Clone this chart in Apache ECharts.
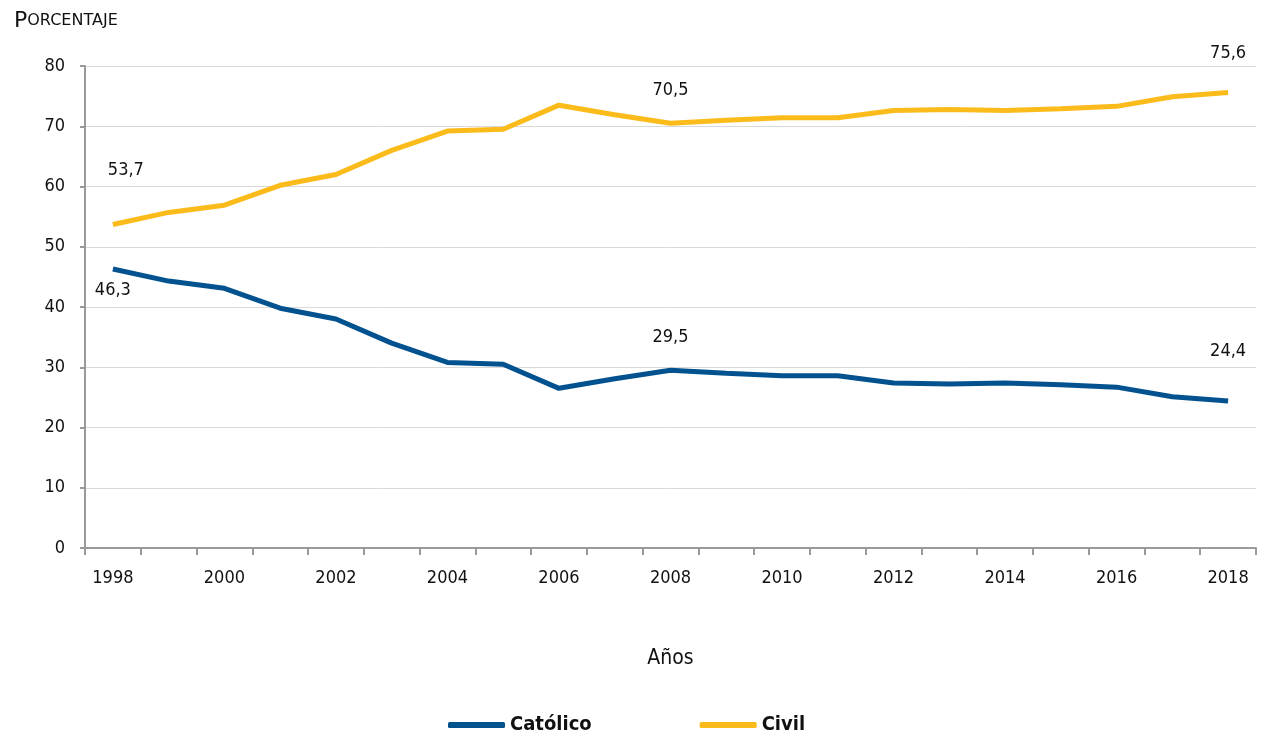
<!DOCTYPE html>
<html>
<head>
<meta charset="utf-8">
<script src="https://cdn.jsdelivr.net/npm/echarts@6/dist/echarts.min.js"></script>
<style>
html,body{margin:0;padding:0;background:#fff;}
#main{width:1265px;height:742px;}
</style>
</head>
<body>
<div id="main"></div>
<script>
var years = ['1998','1999','2000','2001','2002','2003','2004','2005','2006','2007','2008','2009','2010','2011','2012','2013','2014','2015','2016','2017','2018'];
var catolico = [46.3,44.3,43.1,39.8,38.0,34.0,30.8,30.5,26.5,28.1,29.5,29.0,28.6,28.6,27.4,27.2,27.4,27.1,26.7,25.1,24.4];
var civil = [53.7,55.7,56.9,60.2,62.0,66.0,69.2,69.5,73.5,71.9,70.5,71.0,71.4,71.4,72.6,72.8,72.6,72.9,73.3,74.9,75.6];
var yTicks = [0,10,20,30,40,50,60,70,80];

var FONT = "'DejaVu Sans Condensed','Liberation Sans Narrow',sans-serif";
var TFONT = "'DejaVu Sans',sans-serif";

// label placement for highlighted points (index -> style)
var catLabels = {0:{position:'bottom',distance:12}, 10:{position:'top',distance:24}, 20:{position:'top',distance:41}};
var civLabels = {0:{position:'top',distance:45,offset:[13,0]}, 10:{position:'top',distance:24}, 20:{position:'top',distance:30}};

function build(values, lbls){
  return values.map(function(v,i){
    var o = {value:v};
    if (lbls[i]) {
      o.label = Object.assign({show:true}, lbls[i]);
    }
    return o;
  });
}
function fmt(p){ return Number(p.value).toFixed(1).replace('.', ','); }

var chart = echarts.init(document.getElementById('main'));
chart.setOption({
  animation:false,
  textStyle:{fontFamily:FONT},
  title:{
    text:'{a|P}{b|ORCENTAJE}',
    left:9, top:5,
    textStyle:{fontWeight:'normal',rich:{a:{fontSize:22,color:'#111',fontFamily:TFONT,fontWeight:'normal'},b:{fontSize:16,color:'#111',fontFamily:TFONT,fontWeight:'normal'}}}
  },
  grid:{left:85,right:9,top:66,bottom:194,containLabel:false},
  legend:{
    bottom:2, left:443,
    itemWidth:57, itemHeight:6, itemGap:108,
    icon:'roundRect',
    textStyle:{fontSize:20,fontWeight:'bold',color:'#111',fontFamily:FONT},
    data:['Católico','Civil']
  },
  xAxis:{
    type:'category', data:years, boundaryGap:true,
    name:'Años', nameLocation:'middle', nameGap:100,
    nameTextStyle:{fontSize:21,color:'#111',fontFamily:FONT},
    axisLine:{lineStyle:{color:'#9a9a9a',width:2}},
    axisTick:{show:true,interval:0,length:7,lineStyle:{color:'#9a9a9a',width:2}},
    axisLabel:{interval:1,fontSize:18,color:'#111',margin:21,fontFamily:FONT},
    splitLine:{show:false}
  },
  yAxis:{
    type:'value', min:yTicks[0], max:yTicks[yTicks.length-1], interval:10,
    axisLine:{show:true,lineStyle:{color:'#9a9a9a',width:2}},
    axisTick:{show:true,length:5,lineStyle:{color:'#9a9a9a',width:2}},
    axisLabel:{fontSize:18,color:'#111',margin:20,fontFamily:FONT},
    splitLine:{lineStyle:{color:'#d9d9d9',width:1}}
  },
  series:[
    {name:'Católico', type:'line', data:build(catolico,catLabels), showSymbol:true, symbol:'circle', symbolSize:0,
     lineStyle:{color:'#02528f',width:5}, itemStyle:{color:'#02528f'},
     label:{show:false,formatter:fmt,fontSize:18,color:'#111',fontFamily:FONT}},
    {name:'Civil', type:'line', data:build(civil,civLabels), showSymbol:true, symbol:'circle', symbolSize:0,
     lineStyle:{color:'#fbbb1b',width:5}, itemStyle:{color:'#fbbb1b'},
     label:{show:false,formatter:fmt,fontSize:18,color:'#111',fontFamily:FONT}}
  ]
});
</script>
</body>
</html>
